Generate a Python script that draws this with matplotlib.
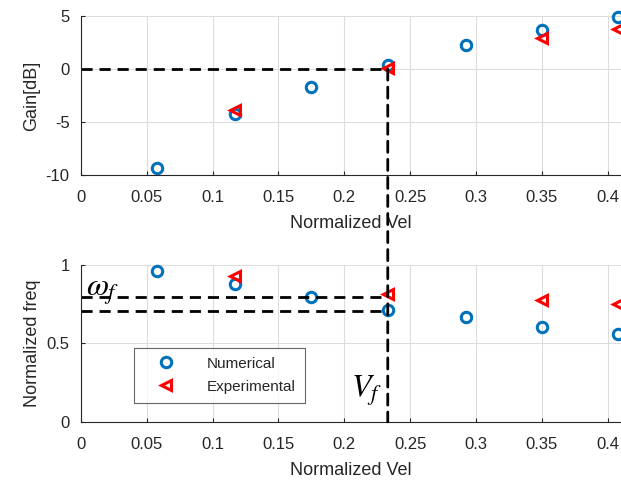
import numpy as np
import matplotlib
matplotlib.use('Agg')
import matplotlib.pyplot as plt
from matplotlib.patches import ConnectionPatch

# data
vel = [0.058, 0.117, 0.175, 0.233, 0.292, 0.350, 0.408]
gain_num = [-9.3, -4.2, -1.7, 0.4, 2.3, 3.7, 4.95]
freq_num = [0.96, 0.88, 0.795, 0.713, 0.666, 0.602, 0.557]

vel_exp = [0.117, 0.233, 0.350, 0.408]
gain_exp = [-3.9, 0.05, 2.9, 3.8]
freq_exp = [0.93, 0.813, 0.777, 0.749]

v_f = 0.233
w_f_hi = 0.797
w_f_lo = 0.709

xticks = [0, 0.05, 0.1, 0.15, 0.2, 0.25, 0.3, 0.35, 0.4]
xtick_labels = ['0', '0.05', '0.1', '0.15', '0.2', '0.25', '0.3', '0.35', '0.4']

plt.rcParams['font.family'] = ['Liberation Sans', 'DejaVu Sans']
plt.rcParams['mathtext.fontset'] = 'stix'
plt.rcParams['axes.unicode_minus'] = False
TXT = '#262626'
BLUE = '#0072BD'
RED = '#FF0000'

fig = plt.figure(figsize=(6.21, 4.86), dpi=100)
ax1 = fig.add_axes([0.130, 0.640, 0.870, 0.327])
ax2 = fig.add_axes([0.130, 0.132, 0.870, 0.323])


def style(ax):
    ax.set_xlim(0, 0.41)
    ax.set_xticks(xticks)
    ax.set_xticklabels(xtick_labels)
    ax.grid(True, color='#dcdcdc', linewidth=0.8)
    ax.set_axisbelow(True)
    for s in ['top', 'right']:
        ax.spines[s].set_visible(False)
    for s in ['left', 'bottom']:
        ax.spines[s].set_color(TXT)
        ax.spines[s].set_linewidth(0.8)
    ax.tick_params(direction='in', length=3, colors=TXT, labelsize=12)
    ax.tick_params(axis='x', pad=11)
    ax.tick_params(axis='y', pad=8)
    ax.set_xlabel('Normalized Vel', fontsize=13, color=TXT, labelpad=7)


mk = dict(linestyle='none', markerfacecolor='none', markeredgewidth=2.2,
          markersize=7.5, clip_on=False)

# top: gain
ax1.plot(vel, gain_num, 'o', color=BLUE, label='Numerical', **mk)
ax1.plot(vel_exp, gain_exp, '<', color=RED, label='Experimental', **mk)
ax1.plot([0, v_f], [0, 0], '--', color='k', linewidth=2, dashes=(4, 2.5))
ax1.set_ylim(-10, 5)
ax1.set_yticks([-10, -5, 0, 5])
ax1.set_ylabel('Gain[dB]', fontsize=13, color=TXT, labelpad=4)
style(ax1)

# bottom: freq
ax2.plot(vel, freq_num, 'o', color=BLUE, label='Numerical', **mk)
ax2.plot(vel_exp, freq_exp, '<', color=RED, label='Experimental', **mk)
ax2.plot([0, v_f], [w_f_hi, w_f_hi], '--', color='k', linewidth=2, dashes=(4, 2.5))
ax2.plot([0, v_f], [w_f_lo, w_f_lo], '--', color='k', linewidth=2, dashes=(4, 2.5))
ax2.set_ylim(0, 1)
ax2.set_yticks([0, 0.5, 1])
ax2.set_yticklabels(['0', '0.5', '1'])
ax2.set_ylabel('Normalized freq', fontsize=13, color=TXT, labelpad=4)
style(ax2)

# vertical dashed line through both axes
con = ConnectionPatch(xyA=(v_f, 0), coordsA=ax1.transData,
                      xyB=(v_f, 0), coordsB=ax2.transData,
                      color='k', linewidth=2, linestyle=(0, (4, 2.5)), zorder=5)
fig.add_artist(con)

ax2.text(0.004, w_f_hi + 0.005, r'$\omega_f$', fontsize=23, color='k',
         ha='left', va='baseline')
ax2.text(v_f - 0.004, 0.2, r'$V_f$', fontsize=23, color='k',
         ha='right', va='center')

leg = ax2.legend(loc='lower left', bbox_to_anchor=(0.098, 0.12), fontsize=11,
                 frameon=True, fancybox=False, edgecolor='#404040',
                 borderpad=0.6, handletextpad=1.2, labelspacing=0.6,
                 handlelength=3.0, borderaxespad=0)
leg.get_frame().set_linewidth(0.8)
for t in leg.get_texts():
    t.set_color(TXT)

fig.savefig('out.png', dpi=100)
